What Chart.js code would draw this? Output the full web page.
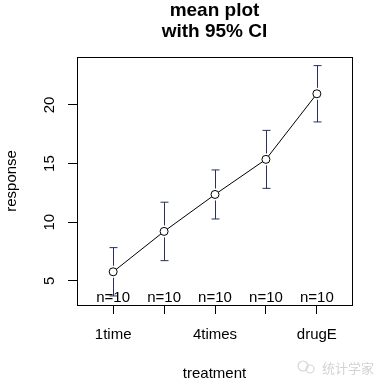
<!DOCTYPE html>
<html>
<head>
<meta charset="utf-8">
<script src="https://cdn.jsdelivr.net/npm/chart.js@4"></script>
<style>
  body { margin: 0; background: #fff; }
  canvas { display: block; }
</style>
</head>
<body>
<canvas id="chartMean" width="383" height="387"></canvas>
<script>
const treatments = ["1time", "2times", "4times", "drugD", "drugE"];
const means = [5.78, 9.22, 12.37, 15.36, 20.95];
const lower = [3.72, 6.73, 10.28, 12.89, 18.55];
const upper = [7.84, 11.71, 14.46, 17.83, 23.35];
const counts = [10, 10, 10, 10, 10];
const yTicks = [5, 10, 15, 20];

const font = "'Liberation Sans', Arial, sans-serif";

// box round the plot, CI bars and n= labels
const extras = {
  id: "extras",
  afterDatasetsDraw(chart) {
    const ctx = chart.ctx;
    const xs = chart.scales.x, ys = chart.scales.y;
    const area = chart.chartArea;
    ctx.save();
    ctx.strokeStyle = "#27305e";
    ctx.lineWidth = 1;
    for (let i = 0; i < means.length; i++) {
      const x = Math.round(xs.getPixelForValue(i + 1)) + 0.5;
      const ym = ys.getPixelForValue(means[i]);
      const yl = ys.getPixelForValue(lower[i]);
      const yh = ys.getPixelForValue(upper[i]);
      ctx.beginPath();
      ctx.moveTo(x, ym - 6); ctx.lineTo(x, yh);
      ctx.moveTo(x - 4, yh); ctx.lineTo(x + 4, yh);
      ctx.moveTo(x, ym + 6); ctx.lineTo(x, yl);
      ctx.moveTo(x - 4, yl); ctx.lineTo(x + 4, yl);
      ctx.stroke();
    }
    ctx.fillStyle = "#000";
    ctx.font = "15px " + font;
    ctx.textAlign = "center";
    ctx.textBaseline = "alphabetic";
    for (let i = 0; i < counts.length; i++) {
      ctx.fillText("n=" + counts[i], xs.getPixelForValue(i + 1), area.bottom - 3);
    }
    ctx.strokeStyle = "#000";
    ctx.strokeRect(Math.round(area.left) + 0.5, Math.round(area.top) + 0.5,
      Math.round(area.right - area.left), Math.round(area.bottom - area.top));
    // watermark
    ctx.strokeStyle = "#d6d6d6";
    ctx.lineWidth = 1.2;
    ctx.beginPath();
    ctx.arc(303, 366, 5, 0, Math.PI * 2);
    ctx.stroke();
    ctx.beginPath();
    ctx.arc(310, 369, 4, 0, Math.PI * 2);
    ctx.stroke();
    ctx.fillStyle = "#d2d2d2";
    ctx.font = "13px 'Noto Sans CJK SC'";
    ctx.textAlign = "left";
    ctx.fillText("统计学家", 322, 373);
    ctx.restore();
  }
};

new Chart(document.getElementById("chartMean"), {
  type: "line",
  data: {
    datasets: [{
      data: means.map((m, i) => ({ x: i + 1, y: m })),
      borderColor: "#000",
      borderWidth: 1,
      pointRadius: 4,
      pointBorderWidth: 1,
      pointBorderColor: "#000",
      pointBackgroundColor: "#fff",
      tension: 0
    }]
  },
  options: {
    responsive: false,
    animation: false,
    layout: { padding: { left: 0, right: 31, top: 0, bottom: 0 } },
    plugins: {
      legend: { display: false },
      tooltip: { enabled: false },
      title: {
        display: true,
        fullSize: false,
        text: ["mean plot", "with 95% CI"],
        color: "#000",
        font: { family: font, size: 19, weight: "bold", lineHeight: 1.1 },
        padding: { top: 0, bottom: 15 }
      }
    },
    scales: {
      x: {
        type: "linear",
        min: 0.29,
        max: 5.69,
        afterBuildTicks: s => { s.ticks = treatments.map((t, i) => ({ value: i + 1 })); },
        afterFit: s => { s.height = 82; },
        ticks: {
          autoSkip: false,
          maxRotation: 0,
          padding: 12,
          color: "#000",
          font: { family: font, size: 15 },
          callback: (v, i) => (i % 2 === 0 ? treatments[i] : "")
        },
        grid: { drawOnChartArea: false, tickLength: 9, color: "#000" },
        border: { display: false },
        title: {
          display: true,
          text: "treatment",
          color: "#000",
          font: { family: font, size: 15 },
          padding: { top: 0, bottom: 4 }
        }
      },
      y: {
        min: 2.95,
        max: 24.1,
        afterBuildTicks: s => { s.ticks = yTicks.map(v => ({ value: v })); },
        afterFit: s => { s.width = 77; },
        ticks: {
          minRotation: 90,
          maxRotation: 90,
          crossAlign: "center",
          padding: 10,
          color: "#000",
          font: { family: font, size: 15 }
        },
        grid: { drawOnChartArea: false, tickLength: 9, color: "#000" },
        border: { display: false },
        title: {
          display: true,
          text: "response",
          color: "#000",
          font: { family: font, size: 15 },
          padding: { top: 3, bottom: 0 }
        }
      }
    }
  },
  plugins: [extras]
});
</script>
</body>
</html>
